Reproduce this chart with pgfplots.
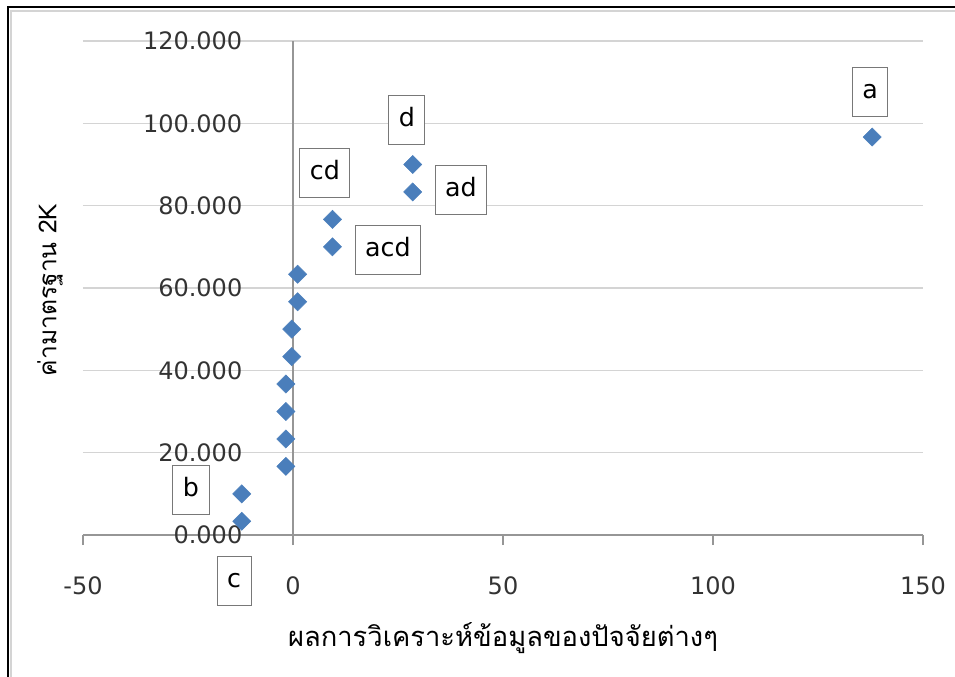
\documentclass[border=0pt]{standalone}
\usepackage{fontspec}
\setmainfont{DejaVu Sans}
\newfontfamily\thaifont[Script=Thai]{Loma}
\usepackage{pgfplots}
\pgfplotsset{compat=1.18}
\definecolor{mk}{RGB}{74,126,187}
\definecolor{gridc}{RGB}{212,212,212}
\definecolor{axl}{RGB}{150,150,150}
\definecolor{bx}{RGB}{120,120,120}
\tikzset{lbl/.style={draw=bx, line width=0.7pt, fill=white, inner xsep=7.5pt, inner ysep=9pt,
     text height=14.2pt, text depth=4.6pt, font=\fontsize{19}{22}\selectfont}}
\begin{document}
\begin{tikzpicture}
\begin{axis}[
  scale only axis, width=630pt, height=370.5pt,
  xmin=-50, xmax=150, ymin=0, ymax=120,
  axis x line=middle, axis y line=middle,
  axis line style={axl, line width=0.8pt, -},
  hide obscured x ticks=false, hide obscured y ticks=false,
  xtick={-50,0,50,100,150}, xticklabels={-50,0,50,100,150},
  ytick={0,20,40,60,80,100,120},
  yticklabels={0.000,20.000,40.000,60.000,80.000,100.000,120.000},
  ymajorgrids, grid style={gridc, line width=1.2pt},
  tick align=outside, major tick length=7.5pt,
  xtick style={axl, line width=0.8pt},
  ytick style={draw=none},
  ticklabel style={font=\fontsize{18}{20}\selectfont, text=black!80},
  yticklabel style={anchor=east, xshift=-27pt},
  xticklabel style={anchor=north, yshift=-20pt},
  clip=false,
]
\coordinate (O) at (axis cs:-50,0);
\addplot[only marks, mark=square*, mark size=4.8pt, mark options={rotate=45, fill=mk, draw=mk}]
  coordinates {
  (-12.2,3.33) (-12.2,10.0) (-1.7,16.67) (-1.7,23.33) (-1.7,30.0) (-1.7,36.67)
  (-0.3,43.33) (-0.3,50.0) (1.1,56.67) (1.1,63.33) (9.4,70.0) (9.4,76.67)
  (28.5,83.33) (28.5,90.0) (137.9,96.67)
  };
\node[lbl] at (axis cs:137.4,107.6) {a};
\node[lbl] at (axis cs:27.1,100.8) {d};
\node[lbl] at (axis cs:40.0,83.8) {ad};
\node[lbl] at (axis cs:7.6,87.9) {cd};
\node[lbl] at (axis cs:22.6,69.2) {acd};
\node[lbl] at (axis cs:-24.3,10.9) {b};
\node[lbl] at (axis cs:-14.0,-11.2) {c};
\node[font=\thaifont\fontsize{20.5}{24}\selectfont, anchor=center]
  at (axis description cs:0.5,-0.2085) {ผลการวิเคราะห์ข้อมูลของปัจจัยต่างๆ};
\node[font=\thaifont\fontsize{18.5}{22}\selectfont, anchor=center, rotate=90]
  at (axis description cs:-0.0393,0.496) {ค่ามาตรฐาน 2K};
\end{axis}
\pgfresetboundingbox
\path[use as bounding box] ([shift={(-62.25pt,-106.5pt)}]O) rectangle ([shift={(654pt,401.25pt)}]O);
\draw[gridc, line width=0.9pt] ([shift={(-54pt,-106.5pt)}]O) -- ([shift={(-54pt,393pt)}]O) -- ([shift={(654pt,393pt)}]O);
\draw[black, line width=1.5pt] ([shift={(-56.25pt,-106.5pt)}]O) -- ([shift={(-56.25pt,396pt)}]O) -- ([shift={(654pt,396pt)}]O);
\end{tikzpicture}
\end{document}
